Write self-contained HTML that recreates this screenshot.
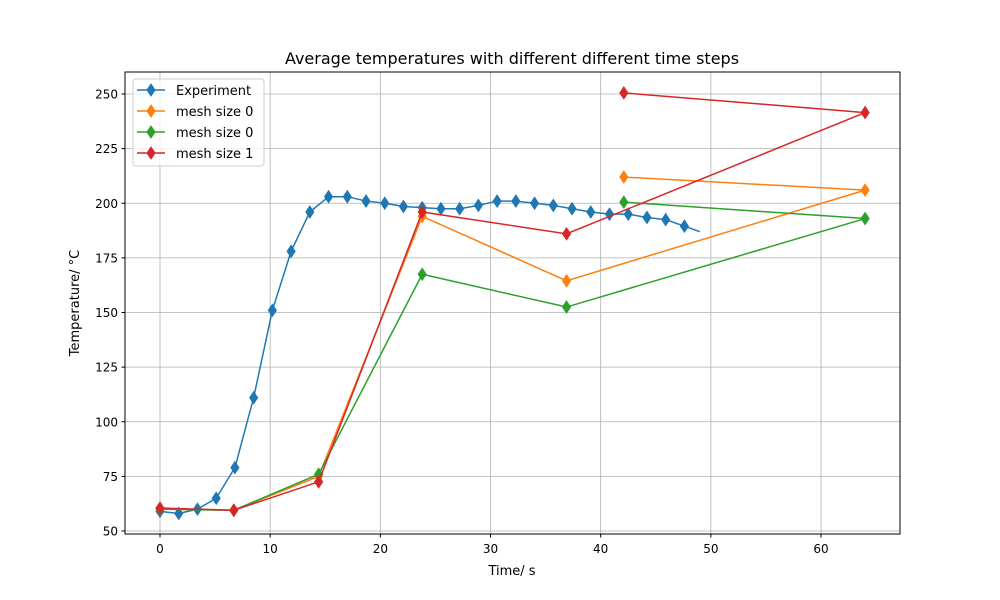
<!DOCTYPE html>
<html><head><meta charset="utf-8"><style>
body{margin:0;background:#fff;}
svg{display:block;font-family:"DejaVu Sans","Liberation Sans",sans-serif;}
</style></head><body>
<svg id="chart" width="1000" height="600">
<rect x="0" y="0" width="1000" height="600" fill="#fff"/>
<g id="grid"></g>
<g id="series"></g>
<rect x="125" y="72" width="775" height="462" fill="none" stroke="#000" stroke-width="1"/>
<g id="ticks"></g>
<text x="512" y="64" text-anchor="middle" font-size="16">Average temperatures with different different time steps</text>
<text x="512" y="575" text-anchor="middle" font-size="13">Time/ s</text>
<text x="0" y="0" transform="translate(79,303) rotate(-90)" text-anchor="middle" font-size="13">Temperature/ °C</text>
<g id="legend"></g>
</svg>
<script>
const xTicks=[0,10,20,30,40,50,60];
const yTicks=[50,75,100,125,150,175,200,225,250];
const expX=[0,1.7,3.4,5.1,6.8,8.5,10.2,11.9,13.6,15.3,17.0,18.7,20.4,22.1,23.8,25.5,27.2,28.9,30.6,32.3,34.0,35.7,37.4,39.1,40.8,42.5,44.2,45.9,47.6,49];
const expY=[59,58,60,65,79,111,151,178,196,203,203,201,200,198.5,198,197.5,197.5,199,201,201,200,199,197.5,196,195,195,193.5,192.5,189.5,187];
const meshX=[0,6.7,14.4,23.8,36.9,64,42.1];
const orangeY=[60,59.5,75,194,164.5,206,212];
const greenY=[60,59.5,76,167.5,152.5,193,200.5];
const redY=[60.5,59.5,72.5,196,186,241.5,250.5];
const labels=["Experiment","mesh size 0","mesh size 0","mesh size 1"];
const colors=["#1f77b4","#ff7f0e","#2ca02c","#d62728"];
const X=v=>160+v*11.017, Y=v=>531-(v-50)*2.185;
const NS="http://www.w3.org/2000/svg";
function mk(tag,attrs,parent){const e=document.createElementNS(NS,tag);for(const k in attrs)e.setAttribute(k,attrs[k]);parent.appendChild(e);return e;}
const grid=document.getElementById('grid'),ticks=document.getElementById('ticks'),series=document.getElementById('series'),legend=document.getElementById('legend');
xTicks.forEach(t=>{const x=X(t);
 const g=mk('line',{x1:x,x2:x,y1:72,y2:534,stroke:'#b0b0b0','stroke-width':0.8},grid);
 
 
 mk('line',{x1:x,x2:x,y1:534,y2:537.5,stroke:'#000'},ticks);
 const tx=mk('text',{x:x,y:553,'text-anchor':'middle','font-size':12},ticks);tx.textContent=t;
 
 
});
yTicks.forEach(t=>{const y=Y(t);
 const g=mk('line',{x1:125,x2:900,y1:y,y2:y,stroke:'#b0b0b0','stroke-width':0.8},grid);
 
 
 mk('line',{x1:121.5,x2:125,y1:y,y2:y,stroke:'#000'},ticks);
 const tx=mk('text',{x:118,y:y+4.5,'text-anchor':'end','font-size':12},ticks);tx.textContent=t;
 
 
});
function diamond(cx,cy,c,p){return mk('polygon',{points:`${cx},${cy-6} ${cx+4},${cy} ${cx},${cy+6} ${cx-4},${cy}`,fill:c,stroke:c,'stroke-width':1},p);}
function drawSeries(xs,ys,c,name,markCount){
 const g=mk('g',{},series);
 
 
 mk('polyline',{points:xs.map((x,i)=>X(x)+','+Y(ys[i])).join(' '),fill:'none',stroke:c,'stroke-width':1.5},g);
 xs.forEach((x,i)=>{if(i<markCount){const d=diamond(X(x),Y(ys[i]),c,g);
  
  }});
}
drawSeries(expX,expY,colors[0],'experiment-series',expX.length-1);
drawSeries(meshX,orangeY,colors[1],'mesh-0a-series',meshX.length);
drawSeries(meshX,greenY,colors[2],'mesh-0b-series',meshX.length);
drawSeries(meshX,redY,colors[3],'mesh-1-series',meshX.length);
mk('rect',{x:133,y:79,width:131,height:87,rx:3,fill:'#fff','fill-opacity':0.8,stroke:'#ccc'},legend);
labels.forEach((l,i)=>{const y=90+i*21;
 const g=mk('g',{},legend);
 
 
 mk('line',{x1:137,x2:165,y1:y,y2:y,stroke:colors[i],'stroke-width':1.5},g);
 diamond(151,y,colors[i],g);
 const t=mk('text',{x:176,y:y+5,'font-size':13},g);t.textContent=l;
});
</script>
</body></html>
